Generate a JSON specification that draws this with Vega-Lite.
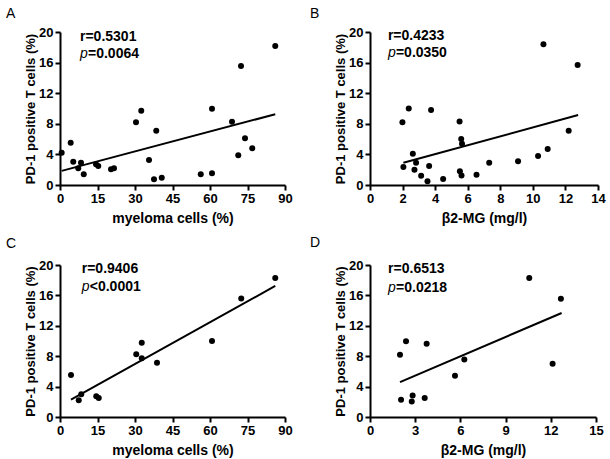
{
  "$schema": "https://vega.github.io/schema/vega-lite/v6.json",
  "padding": {"left": 6, "top": 6, "right": 5, "bottom": 5},
  "background": "white",
  "config": {
    "view": {"stroke": null},
    "font": "Liberation Sans",
    "axis": {
      "domainColor": "black", "domainWidth": 2, "tickColor": "black", "tickWidth": 2, "tickSize": 5,
      "grid": false, "labelFont": "Liberation Sans", "labelFontSize": 13, "labelFontWeight": "bold",
      "labelColor": "black", "titleFont": "Liberation Sans", "titleFontSize": 14, "titleFontWeight": "bold",
      "titleColor": "black", "labelPadding": 2, "labelFlush": false, "labelOverlap": false, "titleLimit": 1000
    },
    "axisX": {"titlePadding": 6},
    "axisY": {"titlePadding": 1, "titleFontSize": 13},
    "title": {"font": "Liberation Sans", "fontSize": 14, "fontWeight": "normal", "color": "black", "anchor": "start", "frame": "group", "baseline": "alphabetic"}
  },
  "datasets": {
    "a": [
      {"x": 0.67, "y": 4.22}, {"x": 4.27, "y": 5.53}, {"x": 5.3, "y": 3.05}, {"x": 7.3, "y": 2.18},
      {"x": 8.4, "y": 2.92}, {"x": 9.5, "y": 1.39}, {"x": 14.4, "y": 2.7}, {"x": 15.3, "y": 2.48},
      {"x": 20.4, "y": 2.05}, {"x": 21.6, "y": 2.18}, {"x": 30.4, "y": 8.2}, {"x": 32.5, "y": 9.7},
      {"x": 35.6, "y": 3.27}, {"x": 37.6, "y": 0.74}, {"x": 38.5, "y": 7.1}, {"x": 40.7, "y": 0.96},
      {"x": 56.3, "y": 1.39}, {"x": 60.8, "y": 1.52}, {"x": 60.8, "y": 9.98}, {"x": 68.8, "y": 8.28},
      {"x": 71.3, "y": 3.88}, {"x": 72.4, "y": 15.56}, {"x": 74.0, "y": 6.1}, {"x": 76.9, "y": 4.8},
      {"x": 86.1, "y": 18.17}
    ],
    "b": [
      {"x": 1.99, "y": 8.2}, {"x": 2.38, "y": 10.0}, {"x": 2.05, "y": 2.35}, {"x": 2.63, "y": 4.1},
      {"x": 2.73, "y": 2.0}, {"x": 2.83, "y": 2.9}, {"x": 3.14, "y": 1.2}, {"x": 3.53, "y": 0.5},
      {"x": 3.63, "y": 2.5}, {"x": 3.75, "y": 9.8}, {"x": 4.49, "y": 0.77}, {"x": 5.5, "y": 8.3},
      {"x": 5.6, "y": 6.0}, {"x": 5.65, "y": 5.4}, {"x": 5.52, "y": 1.8}, {"x": 5.62, "y": 1.25},
      {"x": 6.54, "y": 1.35}, {"x": 7.32, "y": 2.9}, {"x": 9.09, "y": 3.1}, {"x": 10.32, "y": 3.8},
      {"x": 10.91, "y": 4.7}, {"x": 12.2, "y": 7.1}, {"x": 10.65, "y": 18.4}, {"x": 12.75, "y": 15.7}
    ],
    "c": [
      {"x": 4.4, "y": 5.53}, {"x": 7.5, "y": 2.2}, {"x": 8.5, "y": 2.98}, {"x": 14.5, "y": 2.72},
      {"x": 15.5, "y": 2.5}, {"x": 30.5, "y": 8.25}, {"x": 32.7, "y": 9.78}, {"x": 32.7, "y": 7.72},
      {"x": 38.8, "y": 7.15}, {"x": 60.8, "y": 10.0}, {"x": 72.5, "y": 15.6}, {"x": 86.1, "y": 18.3}
    ],
    "d": [
      {"x": 1.99, "y": 8.18}, {"x": 2.39, "y": 9.96}, {"x": 2.06, "y": 2.27}, {"x": 2.77, "y": 2.04},
      {"x": 2.83, "y": 2.84}, {"x": 3.63, "y": 2.49}, {"x": 3.76, "y": 9.64}, {"x": 5.64, "y": 5.42},
      {"x": 6.26, "y": 7.55}, {"x": 10.57, "y": 18.3}, {"x": 12.12, "y": 7.02}, {"x": 12.67, "y": 15.55}
    ]
  },
  "columns": 2,
  "bounds": "flush",
  "spacing": {"row": 80, "column": 85},
  "concat": [
    {
      "width": 225, "height": 153,
      "title": {"text": "A", "dx": -54, "offset": 5.5},
      "encoding": {
        "x": {"field": "x", "type": "quantitative", "scale": {"domain": [0, 90], "nice": false}, "axis": {"values": [0, 15, 30, 45, 60, 75, 90], "title": "myeloma cells (%)"}},
        "y": {"field": "y", "type": "quantitative", "scale": {"domain": [0, 20], "nice": false}, "axis": {"values": [0, 4, 8, 12, 16, 20], "title": "PD-1 positive T cells (%)"}}
      },
      "layer": [
        {"data": {"name": "a"}, "mark": {"type": "circle", "size": 36, "color": "black", "opacity": 1}},
        {"data": {"values": [{"x": 0.67, "y": 1.85}, {"x": 86.1, "y": 9.25}]}, "mark": {"type": "line", "color": "black", "strokeWidth": 2}},
        {"data": {"values": [{"x": 8, "y": 18.8, "t": "r=0.5301"}]}, "mark": {"type": "text", "align": "left", "baseline": "alphabetic", "fontWeight": "bold", "fontSize": 14, "color": "black"}, "encoding": {"text": {"field": "t"}}},
        {"data": {"values": [{"x": 8, "y": 16.6, "t": "p"}]}, "mark": {"type": "text", "align": "left", "baseline": "alphabetic", "fontStyle": "italic", "fontSize": 14, "color": "black"}, "encoding": {"text": {"field": "t"}}},
        {"data": {"values": [{"x": 8, "y": 16.6, "t": "=0.0064"}]}, "mark": {"type": "text", "align": "left", "baseline": "alphabetic", "dx": 8, "fontWeight": "bold", "fontSize": 14, "color": "black"}, "encoding": {"text": {"field": "t"}}}
      ]
    },
    {
      "width": 228, "height": 153,
      "title": {"text": "B", "dx": -60, "offset": 5.5},
      "encoding": {
        "x": {"field": "x", "type": "quantitative", "scale": {"domain": [0, 14], "nice": false}, "axis": {"values": [0, 2, 4, 6, 8, 10, 12, 14], "title": "β2-MG (mg/l)"}},
        "y": {"field": "y", "type": "quantitative", "scale": {"domain": [0, 20], "nice": false}, "axis": {"values": [0, 4, 8, 12, 16, 20], "title": "PD-1 positive T cells (%)"}}
      },
      "layer": [
        {"data": {"name": "b"}, "mark": {"type": "circle", "size": 36, "color": "black", "opacity": 1}},
        {"data": {"values": [{"x": 2.05, "y": 2.9}, {"x": 12.78, "y": 9.14}]}, "mark": {"type": "line", "color": "black", "strokeWidth": 2}},
        {"data": {"values": [{"x": 1.1, "y": 18.9, "t": "r=0.4233"}]}, "mark": {"type": "text", "align": "left", "baseline": "alphabetic", "fontWeight": "bold", "fontSize": 14, "color": "black"}, "encoding": {"text": {"field": "t"}}},
        {"data": {"values": [{"x": 1.1, "y": 16.7, "t": "p"}]}, "mark": {"type": "text", "align": "left", "baseline": "alphabetic", "fontStyle": "italic", "fontSize": 14, "color": "black"}, "encoding": {"text": {"field": "t"}}},
        {"data": {"values": [{"x": 1.1, "y": 16.7, "t": "=0.0350"}]}, "mark": {"type": "text", "align": "left", "baseline": "alphabetic", "dx": 8, "fontWeight": "bold", "fontSize": 14, "color": "black"}, "encoding": {"text": {"field": "t"}}}
      ]
    },
    {
      "width": 225, "height": 152,
      "title": {"text": "C", "dx": -54, "offset": 8},
      "encoding": {
        "x": {"field": "x", "type": "quantitative", "scale": {"domain": [0, 90], "nice": false}, "axis": {"values": [0, 15, 30, 45, 60, 75, 90], "title": "myeloma cells (%)"}},
        "y": {"field": "y", "type": "quantitative", "scale": {"domain": [0, 20], "nice": false}, "axis": {"values": [0, 4, 8, 12, 16, 20], "title": "PD-1 positive T cells (%)"}}
      },
      "layer": [
        {"data": {"name": "c"}, "mark": {"type": "circle", "size": 36, "color": "black", "opacity": 1}},
        {"data": {"values": [{"x": 4.4, "y": 2.3}, {"x": 86.1, "y": 17.24}]}, "mark": {"type": "line", "color": "black", "strokeWidth": 2}},
        {"data": {"values": [{"x": 8.7, "y": 19.0, "t": "r=0.9406"}]}, "mark": {"type": "text", "align": "left", "baseline": "alphabetic", "fontWeight": "bold", "fontSize": 14, "color": "black"}, "encoding": {"text": {"field": "t"}}},
        {"data": {"values": [{"x": 8.7, "y": 16.6, "t": "p"}]}, "mark": {"type": "text", "align": "left", "baseline": "alphabetic", "fontStyle": "italic", "fontSize": 14, "color": "black"}, "encoding": {"text": {"field": "t"}}},
        {"data": {"values": [{"x": 8.7, "y": 16.6, "t": "<0.0001"}]}, "mark": {"type": "text", "align": "left", "baseline": "alphabetic", "dx": 8, "fontWeight": "bold", "fontSize": 14, "color": "black"}, "encoding": {"text": {"field": "t"}}}
      ]
    },
    {
      "width": 226, "height": 152,
      "title": {"text": "D", "dx": -60, "offset": 9},
      "encoding": {
        "x": {"field": "x", "type": "quantitative", "scale": {"domain": [0, 15], "nice": false}, "axis": {"values": [0, 3, 6, 9, 12, 15], "title": "β2-MG (mg/l)"}},
        "y": {"field": "y", "type": "quantitative", "scale": {"domain": [0, 20], "nice": false}, "axis": {"values": [0, 4, 8, 12, 16, 20], "title": "PD-1 positive T cells (%)"}}
      },
      "layer": [
        {"data": {"name": "d"}, "mark": {"type": "circle", "size": 36, "color": "black", "opacity": 1}},
        {"data": {"values": [{"x": 1.99, "y": 4.58}, {"x": 12.72, "y": 13.69}]}, "mark": {"type": "line", "color": "black", "strokeWidth": 2}},
        {"data": {"values": [{"x": 1.2, "y": 18.9, "t": "r=0.6513"}]}, "mark": {"type": "text", "align": "left", "baseline": "alphabetic", "fontWeight": "bold", "fontSize": 14, "color": "black"}, "encoding": {"text": {"field": "t"}}},
        {"data": {"values": [{"x": 1.2, "y": 16.5, "t": "p"}]}, "mark": {"type": "text", "align": "left", "baseline": "alphabetic", "fontStyle": "italic", "fontSize": 14, "color": "black"}, "encoding": {"text": {"field": "t"}}},
        {"data": {"values": [{"x": 1.2, "y": 16.5, "t": "=0.0218"}]}, "mark": {"type": "text", "align": "left", "baseline": "alphabetic", "dx": 8, "fontWeight": "bold", "fontSize": 14, "color": "black"}, "encoding": {"text": {"field": "t"}}}
      ]
    }
  ]
}
